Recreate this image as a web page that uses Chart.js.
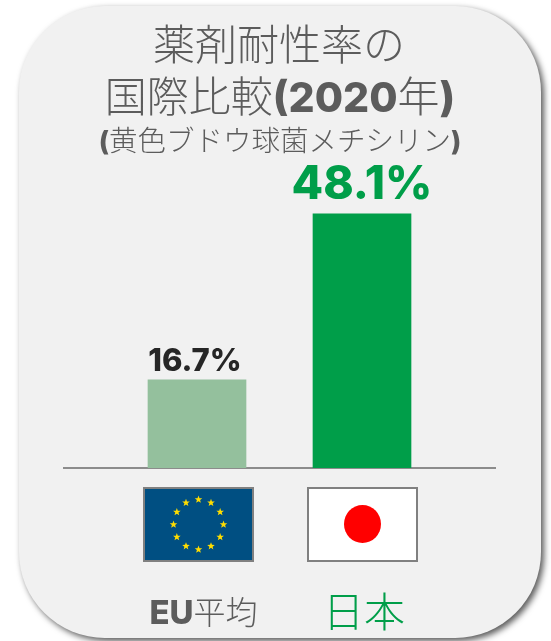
<!DOCTYPE html>
<html lang="ja">
<head>
<meta charset="utf-8">
<title>薬剤耐性率の国際比較</title>
<script src="https://cdn.jsdelivr.net/npm/chart.js@4"></script>
<style>
    html, body { margin: 0; padding: 0; background: #fff; }
    canvas { display: block; }
</style>
</head>
<body>
<canvas id="resistanceChart" width="551" height="641"></canvas>
<script>
var categories = ["EU平均", "日本"];
var resistanceValues = [16.7, 48.1];
var valueLabels = ["16.7%", "48.1%"];

var JP = '"Noto Sans CJK JP", sans-serif';
var LATIN = 'Inter, "Open Sans", sans-serif';
var GREY = "#5c5c5c";
var GREEN = "#009e49";

// draw one line made of runs with different fonts, centred on cx
function drawRuns(ctx, runs, cx, y) {
    var total = 0;
    runs.forEach(function (r) {
        ctx.font = r.font;
        total += ctx.measureText(r.text).width;
    });
    var x = cx - total / 2;
    ctx.textAlign = "left";
    ctx.textBaseline = "alphabetic";
    runs.forEach(function (r) {
        ctx.font = r.font;
        ctx.fillStyle = r.color || GREY;
        ctx.fillText(r.text, x, y);
        x += ctx.measureText(r.text).width;
    });
}

function drawStar(ctx, x, y, r) {
    ctx.beginPath();
    for (var i = 0; i < 10; i++) {
        var a = -Math.PI / 2 + (i * Math.PI) / 5;
        var d = i % 2 === 0 ? r : r * 0.42;
        ctx.lineTo(x + Math.cos(a) * d, y + Math.sin(a) * d);
    }
    ctx.closePath();
    ctx.fill();
}

function drawFlagEU(ctx) {
    ctx.fillStyle = "#004f82";
    ctx.fillRect(143, 487, 111, 75);
    ctx.strokeStyle = "#808080";
    ctx.lineWidth = 2;
    ctx.strokeRect(144, 488, 109, 73);
    ctx.fillStyle = "#ffdd00";
    for (var i = 0; i < 12; i++) {
        var a = (i * Math.PI) / 6;
        drawStar(ctx, 198.5 + Math.cos(a) * 25, 524.5 + Math.sin(a) * 25, 4);
    }
}

function drawFlagJP(ctx) {
    ctx.fillStyle = "#fff";
    ctx.fillRect(307, 487, 111, 75);
    ctx.strokeStyle = "#808080";
    ctx.lineWidth = 2;
    ctx.strokeRect(308, 488, 109, 73);
    ctx.fillStyle = "#ff0000";
    ctx.beginPath();
    ctx.ellipse(362.5, 524, 18.5, 19, 0, 0, Math.PI * 2);
    ctx.fill();
}

// gray rounded card behind the chart
var cardPlugin = {
    id: "card",
    beforeDraw: function (chart) {
        var ctx = chart.ctx;
        ctx.save();
        ctx.shadowColor = "rgba(0,0,0,0.65)";
        ctx.shadowBlur = 6;
        ctx.shadowOffsetX = 3;
        ctx.shadowOffsetY = 3;
        ctx.fillStyle = "#f1f1f1";
        ctx.beginPath();
        ctx.roundRect(19, 6, 522, 632, 86);
        ctx.fill();
        ctx.restore();
    },
    beforeDatasetsDraw: function (chart) {
        var ctx = chart.ctx;
        var y0 = chart.scales.y.getPixelForValue(0);
        ctx.save();
        ctx.strokeStyle = "#8c8c8c";
        ctx.lineWidth = 2;
        ctx.beginPath();
        ctx.moveTo(63, y0);
        ctx.lineTo(496, y0);
        ctx.stroke();
        ctx.restore();
    },
};

var textPlugin = {
    id: "texts",
    afterDraw: function (chart) {
        var ctx = chart.ctx;
        ctx.save();

        drawRuns(ctx, [{ text: "薬剤耐性率の", font: "300 42px " + JP }], 279, 60);
        drawRuns(ctx, [
            { text: "国際比較", font: "300 42px " + JP },
            { text: "(2020", font: "800 41px " + LATIN },
            { text: "年", font: "300 42px " + JP },
            { text: ")", font: "800 41px " + LATIN },
        ], 280, 112);
        drawRuns(ctx, [
            { text: "(", font: "800 27px " + LATIN },
            { text: "黄色ブドウ球菌メチシリン", font: "300 28.5px " + JP },
            { text: ")", font: "800 27px " + LATIN },
        ], 280, 151);

        // value labels above the bars
        var bars = chart.getDatasetMeta(0).data;
        drawRuns(ctx, [{ text: valueLabels[0], font: "800 31px " + LATIN, color: "#262626" }], bars[0].x - 2, bars[0].y - 9);
        drawRuns(ctx, [{ text: valueLabels[1], font: "800 46px " + LATIN, color: GREEN }], bars[1].x, bars[1].y - 15);

        drawFlagEU(ctx);
        drawFlagJP(ctx);

        // category names under the flags
        drawRuns(ctx, [
            { text: categories[0].slice(0, 2), font: "800 33px " + LATIN },
            { text: categories[0].slice(2), font: "300 32px " + JP },
        ], 203.5, 624);
        drawRuns(ctx, [{ text: categories[1], font: "300 41px " + JP, color: GREEN }], 364, 627);

        ctx.restore();
    },
};

new Chart(document.getElementById("resistanceChart").getContext("2d"), {
    type: "bar",
    data: {
        labels: categories,
        datasets: [
            {
                label: "薬剤耐性率",
                data: resistanceValues,
                backgroundColor: ["#94c09d", GREEN],
                barThickness: 98,
            },
        ],
    },
    options: {
        responsive: false,
        animation: false,
        layout: {
            padding: { left: 114.5, right: 106.5, top: 151, bottom: 173 },
        },
        plugins: {
            legend: { display: false },
            tooltip: { enabled: false },
        },
        scales: {
            x: { display: false },
            y: { display: false, min: 0, max: 60 },
        },
    },
    plugins: [cardPlugin, textPlugin],
});
</script>
</body>
</html>
